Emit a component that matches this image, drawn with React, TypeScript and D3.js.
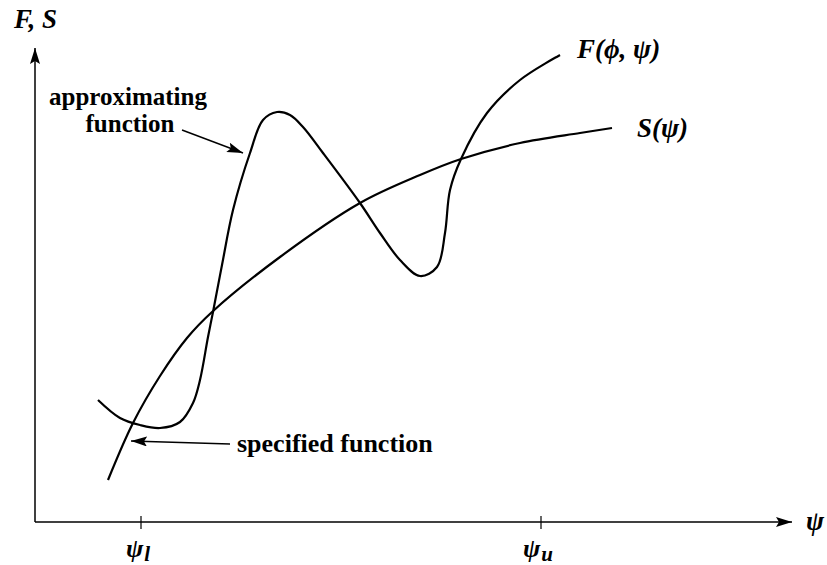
import React from "react";
import * as d3 from "d3";

// values, x from the F,S axis, y up from the psi axis
const specifiedX = [73, 98, 125, 152, 177, 245, 325, 385, 426, 485, 545, 577];
const specifiedY = [42, 99, 146, 184, 210, 265, 319, 347, 363, 379, 389, 394];

const approxX = [63, 85, 105, 125, 145, 158, 165, 173, 178, 187, 198, 215, 228, 242, 255, 268, 288, 325, 345, 365, 385, 402, 410, 415, 426, 452, 485, 525];
const approxY = [122, 104, 97, 94, 100, 119, 142, 185, 210, 257, 312, 369, 402, 410, 407, 395, 369, 319, 289, 262, 246, 255, 289, 332, 363, 409, 442, 467];

const tickPos = [106, 506];
const tickSub = ["l", "u"];

// annotation arrows: [tailX, tailY, tipX, tipY]
const approxArrow = [147, 392, 208, 369];
const specArrow = [195, 78, 96, 81];

const W = 827;
const H = 565;
const serif = "'Liberation Serif', 'Times New Roman', serif";

export default function App() {
  const x = d3.scaleLinear().domain([0, 755]).range([35, 790]);
  const y = d3.scaleLinear().domain([0, 474]).range([522, 48]);

  const pathOf = (xs: number[], ys: number[]) =>
    d3
      .line<[number, number]>()
      .x((d) => x(d[0]))
      .y((d) => y(d[1]))
      .curve(d3.curveCatmullRom.alpha(0.5))(xs.map((v, i) => [v, ys[i]]));

  const x0 = x(0);
  const y0 = y(0);

  return (
    <svg
      width={W}
      height={H}
      style={{ position: "absolute", left: 0, top: 0, background: "#fff" }}
    >
      <defs>
        <marker
          id="head"
          viewBox="0 0 16 10"
          refX={16}
          refY={5}
          markerWidth={16}
          markerHeight={10}
          markerUnits="userSpaceOnUse"
          orient="auto"
        >
          <path d="M0,0 L16,5 L0,10 L3,5 Z" fill="#000" />
        </marker>
      </defs>

      {/* axes */}
      <line x1={x0} y1={y0} x2={x0} y2={y(474)} stroke="#000" strokeWidth={1.5} markerEnd="url(#head)" />
      <line x1={x0} y1={y0} x2={x(757)} y2={y0} stroke="#000" strokeWidth={1.5} markerEnd="url(#head)" />

      {tickPos.map((t, i) => (
        <g key={i}>
          <line x1={x(t)} x2={x(t)} y1={y0 - 6} y2={y0 + 7} stroke="#000" strokeWidth={1.2} />
          <text
            x={x(t) - 3}
            y={557}
            fontFamily={serif}
            fontStyle="italic"
            fontWeight="bold"
            fontSize={26}
            textAnchor="middle"
          >
            ψ
            <tspan dx={1} dy={4} fontSize={21}>{tickSub[i]}</tspan>
          </text>
        </g>
      ))}

      {/* curves */}
      <path d={pathOf(specifiedX, specifiedY) || ""} fill="none" stroke="#000" strokeWidth={2.2} />
      <path d={pathOf(approxX, approxY) || ""} fill="none" stroke="#000" strokeWidth={2.2} />

      {/* annotation arrows */}
      <line
        x1={x(approxArrow[0])}
        y1={y(approxArrow[1])}
        x2={x(approxArrow[2])}
        y2={y(approxArrow[3])}
        stroke="#000"
        strokeWidth={1.4}
        markerEnd="url(#head)"
      />
      <line
        x1={x(specArrow[0])}
        y1={y(specArrow[1])}
        x2={x(specArrow[2])}
        y2={y(specArrow[3])}
        stroke="#000"
        strokeWidth={1.4}
        markerEnd="url(#head)"
      />

      {/* labels */}
      <text x={14} y={28} fontFamily={serif} fontStyle="italic" fontWeight="bold" fontSize={27}>
        F, S
      </text>
      <text x={806} y={530} fontFamily={serif} fontStyle="italic" fontWeight="bold" fontSize={27}>
        ψ
      </text>
      <text x={577} y={58} fontFamily={serif} fontStyle="italic" fontWeight="bold" fontSize={27}>
        F(ϕ, ψ)
      </text>
      <text x={637} y={137} fontFamily={serif} fontStyle="italic" fontWeight="bold" fontSize={27}>
        S(ψ)
      </text>
      <text x={128} y={105} fontFamily={serif} fontWeight="bold" fontSize={25} textAnchor="middle">
        approximating
      </text>
      <text x={130} y={132} fontFamily={serif} fontWeight="bold" fontSize={25} textAnchor="middle">
        function
      </text>
      <text x={237} y={452} fontFamily={serif} fontWeight="bold" fontSize={26}>
        specified function
      </text>
    </svg>
  );
}
